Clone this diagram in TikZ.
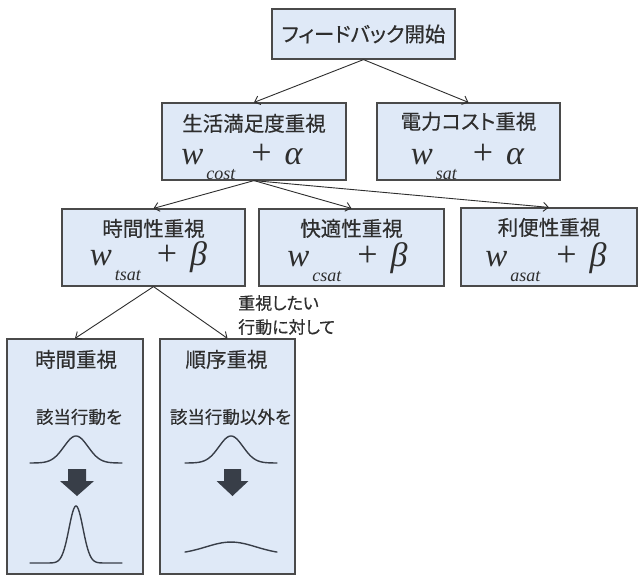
\documentclass[tikz,border=0pt]{standalone}
\usepackage{fontspec}
\setmainfont{Liberation Serif}
\newfontfamily\jp{Noto Sans CJK JP}[RawFeature=+palt, FakeBold=0.4]
\usetikzlibrary{arrows.meta}
\definecolor{boxfill}{HTML}{DFE9F7}
\definecolor{boxline}{HTML}{4A4A4A}
\definecolor{txt}{HTML}{2E2E2E}
\definecolor{curvecol}{HTML}{383E48}
\newcommand\wform[2]{{\fontsize{33}{33}\selectfont\itshape w}\hspace{3pt}\raisebox{-15pt}{\fontsize{18}{18}\selectfont\itshape #1}\hspace{16pt}{\fontsize{36}{36}\selectfont +}\hspace{13pt}{\fontsize{34}{34}\selectfont\itshape #2}}
\begin{document}
\begin{tikzpicture}[x=1pt, y=-1pt,
  box/.style={draw=boxline, fill=boxfill, line width=1.2pt, inner sep=0pt},
  title/.style={font=\jp\fontsize{20.5}{20.5}\selectfont, text=txt, inner sep=0pt},
  subtxt/.style={font=\jp\fontsize{17.5}{17.5}\selectfont, text=txt, inner sep=0pt},
  form/.style={text=txt, inner sep=0pt, anchor=base},
  link/.style={draw=txt, line width=0.9pt, -{Straight Barb[length=5pt,width=9pt]}},
  curve/.style={draw=curvecol, line width=1.4pt, line cap=round}]
\useasboundingbox (0,0) rectangle (640,576);
\fill[white] (0,0) rectangle (640,576);

% boxes
\node[box, minimum width=183, minimum height=50] (top) at (363.5,34) {};
\node[box, minimum width=184, minimum height=77] (b1) at (254,141.5) {};
\node[box, minimum width=183, minimum height=77] (b2) at (468.5,141.5) {};
\node[box, minimum width=183, minimum height=77] (c1) at (153.5,247.5) {};
\node[box, minimum width=185, minimum height=77] (c2) at (351.5,247.5) {};
\node[box, minimum width=176, minimum height=78] (c3) at (549,247) {};
\node[box, minimum width=136, minimum height=235] (d1) at (75,456.5) {};
\node[box, minimum width=135, minimum height=235] (d2) at (227.5,456.5) {};

% texts
\node[title] (topt) at (top) {フィードバック開始};
\node[title] (b1t) at ([yshift=-21pt]b1.north) {生活満足度重視};
\node[form] (b1f) at ([xshift=-12pt,yshift=-62pt]b1.north) {\wform{cost}{α}};
\node[title] (b2t) at ([yshift=-19pt]b2.north) {電力コスト重視};
\node[form] (b2f) at ([xshift=-1pt,yshift=-62pt]b2.north) {\wform{sat}{α}};
\node[title] (c1t) at ([yshift=-20pt]c1.north) {時間性重視};
\node[form] (c1f) at ([xshift=-5pt,yshift=-57pt]c1.north) {\wform{tsat}{β}};
\node[title] (c2t) at ([yshift=-20pt]c2.north) {快適性重視};
\node[form] (c2f) at ([xshift=-4pt,yshift=-58pt]c2.north) {\wform{csat}{β}};
\node[title] (c3t) at ([yshift=-20pt]c3.north) {利便性重視};
\node[form] (c3f) at ([xshift=-3pt,yshift=-59pt]c3.north) {\wform{asat}{β}};
\node[title] (d1t) at ([xshift=1pt,yshift=-21pt]d1.north) {時間重視};
\node[subtxt] (d1s) at ([xshift=4pt,yshift=-78.5pt]d1.north) {該当行動を};
\node[title] (d2t) at ([xshift=-1pt,yshift=-21pt]d2.north) {順序重視};
\node[subtxt] (d2s) at ([xshift=3pt,yshift=-78.5pt]d2.north) {該当行動以外を};
\node[font=\jp\fontsize{17}{24}\selectfont, text=txt, align=left, anchor=north west, inner sep=0pt] (note) at (238,295) {重視したい\\行動に対して};

% connectors
\draw[link] (top.south) -- (b1.north);
\draw[link] (top.south) -- (b2.north);
\draw[link] (b1.south) -- (c1.north);
\draw[link] (b1.south) -- (c2.north);
\draw[link] (b1.south) -- (c3.north);
\draw[link] (c1.south) -- (d1.north);
\draw[link] (c1.south) -- (d2.north);

% curves
\draw[curve] plot[domain=30:122, samples=80, smooth] (\x,{463-27*exp(-((\x-76)^2)/288)});
\draw[curve] plot[domain=30:122, samples=100, smooth] (\x,{563-57*exp(-((\x-76)^2)/98)});
\draw[curve] plot[domain=185:277, samples=80, smooth] (\x,{463-27*exp(-((\x-231)^2)/288)});
\draw[curve] plot[domain=185:277, samples=80, smooth] (\x,{554.3-12.25*exp(-((\x-231)^2)/1250)});

% thick down arrows
\fill[curvecol] (68,469) -- (86,469) -- (86,481) -- (94,481) -- (77,496) -- (60,481) -- (68,481) -- cycle;
\fill[curvecol] (224,469) -- (241,469) -- (241,481) -- (248.5,481) -- (232.5,496) -- (216.5,481) -- (224,481) -- cycle;
\end{tikzpicture}
\end{document}
